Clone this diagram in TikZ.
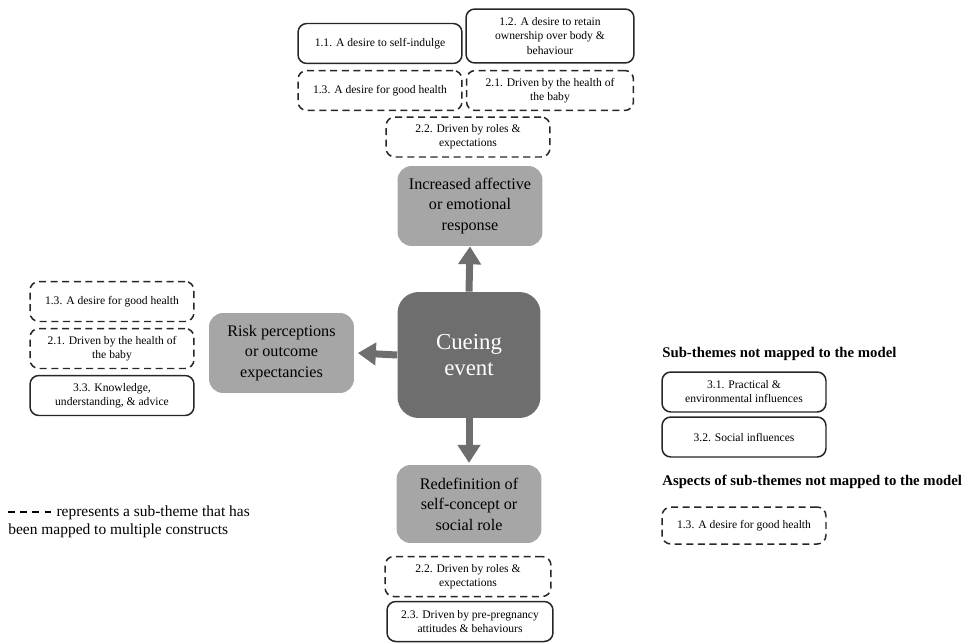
\documentclass[tikz,border=0pt]{standalone}
\usepackage{fontspec}
\setmainfont{Liberation Serif}
\usetikzlibrary{arrows.meta}

\definecolor{constructgray}{HTML}{A6A6A6}
\definecolor{cuegray}{HTML}{6E6E6E}

\newcommand{\keydash}{\rule[0.24em]{0.42em}{0.16em}\hspace{0.36em}}

\begin{document}
\begin{tikzpicture}[x=0.02cm,y=-0.02cm,
  theme/.style={draw=black!85,line width=0.85pt,rounded corners=5pt,align=center,inner sep=1pt,
    minimum width=3.28cm,minimum height=0.8cm,font=\fontsize{6.6}{8}\selectfont},
  multi/.style={theme,dash pattern=on 4pt off 2.6pt},
  construct/.style={fill=constructgray,rounded corners=8pt,align=center,inner sep=1pt,
    minimum width=2.9cm,minimum height=1.6cm,font=\fontsize{9.2}{11.6}\selectfont},
  heading/.style={anchor=west,inner sep=0pt,font=\bfseries\fontsize{8.4}{10}\selectfont},
  link/.style={draw=cuegray,line width=0.14cm,-{Triangle[width=0.44cm,length=0.36cm]}}
]
\useasboundingbox (0,0) rectangle (966,642);

% central model
\node[fill=cuegray,text=white,rounded corners=12pt,align=center,
  minimum width=2.86cm,minimum height=2.52cm,font=\fontsize{13}{15.3}\selectfont]
  (cue) at (469,355) {Cueing\\event};
\node[construct] (aff) at (470,206) {Increased affective\\or emotional\\response};
\node[construct] (risk) at (281.5,353) {Risk perceptions\\or outcome\\expectancies};
\node[construct,minimum height=1.56cm] (redef) at (469,504) {Redefinition of\\self-concept or\\social role};

\draw[link] (cue.north) -- (aff.south);
\draw[link] (cue.west) -- ([xshift=2pt]risk.east);
\draw[link] (cue.south) -- ([yshift=1pt]redef.north);

% sub-themes above
\node[theme] (t11) at (380,43.5) {1.1. A desire to self-indulge};
\node[theme,minimum width=3.36cm,minimum height=1.08cm] (t12) at (550,36) {1.2. A desire to retain\\ownership over body \&\\behaviour};
\node[multi] (t13) at (380,90.5) {1.3. A desire for good health};
\node[multi,minimum width=3.34cm] (t21) at (550,90.5) {2.1. Driven by the health of\\the baby};
\node[multi] (t22) at (468,137) {2.2. Driven by roles \&\\expectations};

% sub-themes left
\node[multi] (l13) at (112,301.5) {1.3. A desire for good health};
\node[multi] (l21) at (112,348.5) {2.1. Driven by the health of\\the baby};
\node[theme] (l33) at (112,395.5) {3.3. Knowledge,\\understanding, \& advice};

% sub-themes below
\node[multi,minimum width=3.32cm] (b22) at (468,576.5) {2.2. Driven by roles \&\\expectations};
\node[theme,minimum width=3.32cm] (b23) at (470,621.5) {2.3. Driven by pre-pregnancy\\attitudes \& behaviours};

% not mapped
\node[heading] (unmapped) at (662,354) {Sub-themes not mapped to the model};
\node[theme] (r31) at (744,392) {3.1. Practical \&\\environmental influences};
\node[theme] (r32) at (744,437) {3.2. Social influences};
\node[heading] (aspects) at (662,482) {Aspects of sub-themes not mapped to the model};
\node[multi,minimum height=0.74cm] (r13) at (744,525.5) {1.3. A desire for good health};

% key
\node[anchor=west,align=left,inner sep=0pt,font=\fontsize{8.8}{10.2}\selectfont] (key) at (8,522)
  {\keydash\keydash\keydash\keydash represents a sub-theme that has\\been mapped to multiple constructs};

\end{tikzpicture}
\end{document}
